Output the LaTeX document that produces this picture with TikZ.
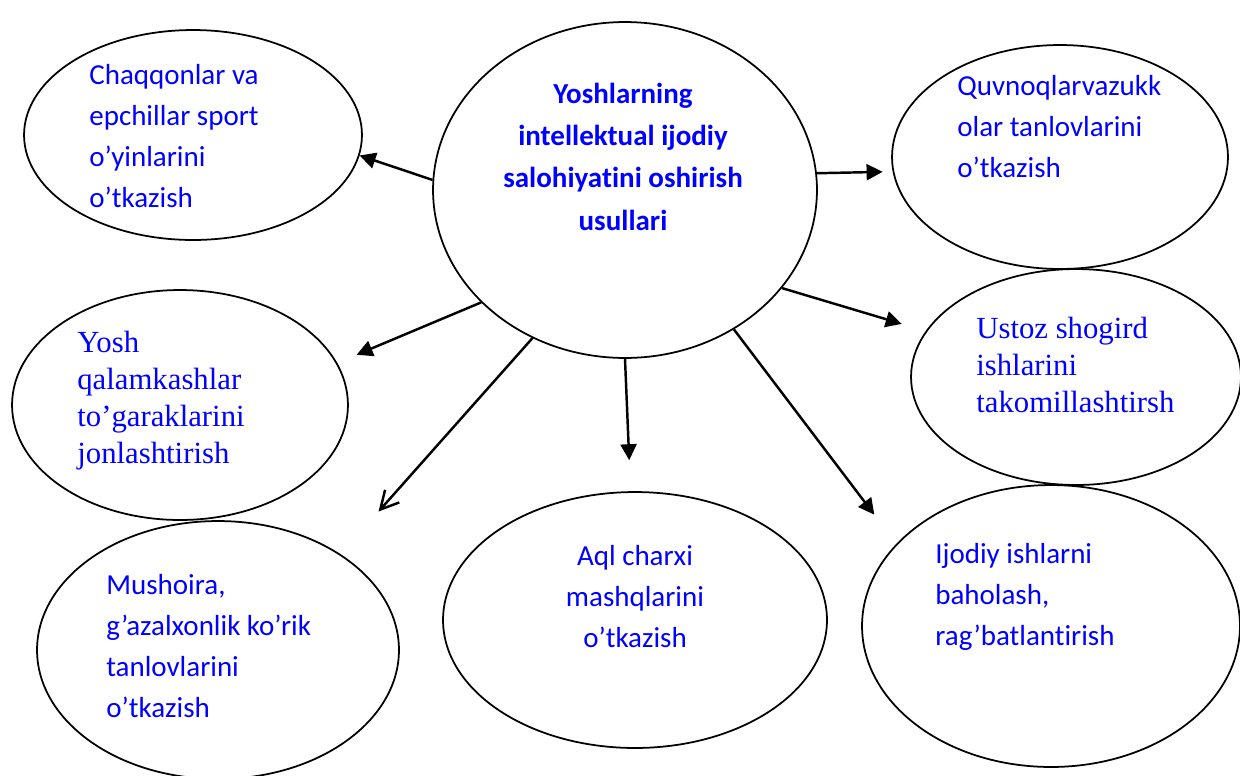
\documentclass[tikz,border=0pt]{standalone}
\usepackage{fontspec}
\setmainfont{Carlito}[Ligatures=CommonOff]
\newfontfamily\timesfont{Liberation Serif}
\usetikzlibrary{arrows.meta,shapes.geometric}
\usepackage{xcolor}
\definecolor{TextBlue}{HTML}{0000FF}

\begin{document}
\begin{tikzpicture}[
    x=0.02cm, y=-0.02cm,
    oval/.style={ellipse, draw, line width=1pt, inner sep=0pt},
    lbl/.style={text=TextBlue, inner sep=0pt, align=left, anchor=base west,
                font=\fontsize{16.5}{23.3}\selectfont},
    lblc/.style={lbl, align=center, anchor=base},
    lblt/.style={lbl, font=\timesfont\fontsize{17.5}{21}\selectfont},
    link/.style={line width=1.4pt, -{Triangle[length=0.32cm,width=0.32cm]}},
    openlink/.style={line width=1.4pt, -{Straight Barb[length=0.36cm,width=0.38cm]}}
  ]
  \useasboundingbox (0,0) rectangle (1240,775);

  \node[oval, minimum width=7.68cm, minimum height=6.72cm] (cen)    at (625,190)  {};
  \node[oval, minimum width=6.76cm, minimum height=4.2cm]  (sport)  at (193,135)  {};
  \node[oval, minimum width=6.72cm, minimum height=4.48cm] (quvnoq) at (1060,157) {};
  \node[oval, minimum width=6.72cm, minimum height=4.6cm]  (yosh)   at (180,405)  {};
  \node[oval, minimum width=6.6cm,  minimum height=4.32cm] (ustoz)  at (1076,377) {};
  \node[oval, minimum width=7.56cm, minimum height=5.64cm] (ijod)   at (1051,626) {};
  \node[oval, minimum width=7.68cm, minimum height=5.12cm] (aql)    at (635,620)  {};
  \node[oval, minimum width=7.24cm, minimum height=5.16cm] (mush)   at (218,650)  {};

  \node[lblc, font=\bfseries\fontsize{16.5}{24}\selectfont] (cen-t) at (623,230)
    {Yoshlarning\\intellektual ijodiy\\salohiyatini oshirish\\usullari};
  \node[lbl] (sport-t) at (89,207)
    {Chaqqonlar va\\epchillar sport\\o’yinlarini\\o’tkazish};
  \node[lbl] (quvnoq-t) at (957,177)
    {Quvnoqlarvazukk\\olar tanlovlarini\\o’tkazish};
  \node[lblt] (yosh-t) at (77,463)
    {Yosh\\qalamkashlar\\to’garaklarini\\jonlashtirish};
  \node[lblt] (ustoz-t) at (976,412)
    {Ustoz shogird\\ishlarini\\takomillashtirsh};
  \node[lbl] (ijod-t) at (935,645)
    {Ijodiy ishlarni\\baholash,\\rag’batlantirish};
  \node[lblc] (aql-t) at (635,647)
    {Aql charxi\\mashqlarini\\o’tkazish};
  \node[lbl] (mush-t) at (106,717)
    {Mushoira,\\g’azalxonlik ko’rik\\tanlovlarini\\o’tkazish};

  \draw[link] (cen.177) -- (sport.-7);
  \draw[link, shorten >=0.2cm] (cen.5) -- (quvnoq.185);
  \draw[link, shorten >=0.5cm] (cen.-32) -- (ustoz.163);
  \draw[link, shorten >=0.42cm] (cen.218) -- (yosh.15);
  \draw[openlink, shorten >=1.14cm] (cen.238) -- (mush.38);
  \draw[link, shorten >=0.62cm] (cen.270) -- (aql.92);
  \draw[link, shorten >=0.73cm] (cen.-52) -- (ijod.152);
\end{tikzpicture}
\end{document}
